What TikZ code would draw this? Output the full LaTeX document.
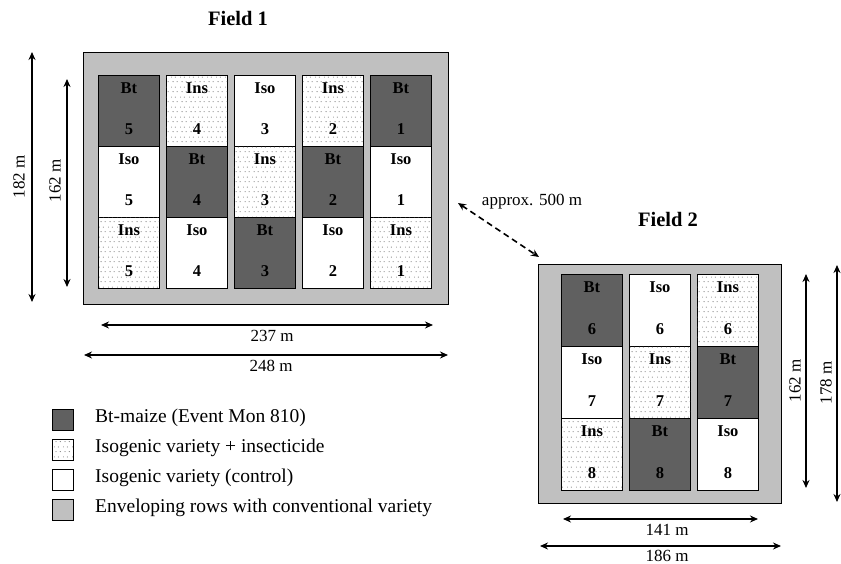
\documentclass[tikz,border=0pt]{standalone}
\usepackage{fontspec}
\setmainfont{Liberation Serif}
\usetikzlibrary{arrows.meta,patterns.meta}
\definecolor{btgray}{HTML}{606060}
\definecolor{envgray}{HTML}{C0C0C0}
\tikzdeclarepattern{name=plotdots,type=uncolored,
  bounding box={(0pt,0pt) and (9pt,10pt)},tile size={(9pt,10pt)},
  code={\fill (2.25pt,2.5pt) circle (0.55pt); \fill (6.75pt,2.5pt) circle (0.55pt);
        \fill (0.25pt,7.5pt) circle (0.55pt); \fill (4.75pt,7.5pt) circle (0.55pt);}}
\tikzset{
 envelope/.style={draw=black, line width=0.9pt, fill=envgray, inner sep=0pt, anchor=north west},
 plotbox/.style={draw=black, line width=0.9pt, minimum width=61pt, inner sep=0pt, anchor=north west},
 btplot/.style={plotbox, fill=btgray},
 isoplot/.style={plotbox, fill=white},
 insplot/.style={plotbox, fill=white, postaction={pattern={plotdots}, pattern color=black!65}},
 celltxt/.style={font=\fontsize{16.5}{18}\selectfont\bfseries, inner sep=0pt},
 titletxt/.style={font=\fontsize{20.5}{24}\selectfont\bfseries, inner sep=0pt},
 dimtxt/.style={font=\fontsize{17}{20}\selectfont, inner sep=0pt},
 dimarrow/.style={line width=1.6pt, {Stealth[length=8pt,width=7pt]}-{Stealth[length=8pt,width=7pt]}},
 legendbox/.style={draw=black, line width=0.9pt, minimum size=21pt, inner sep=0pt},
 legendtxt/.style={font=\fontsize{19.5}{22}\selectfont, anchor=west, inner sep=0pt},
}
\newcommand\plotcell[7]{%
 \node[#4plot, minimum height=#7pt] (#1) at (#2,#3) {};
 \node[celltxt] (#1l) at ([yshift=-13pt]#1.north) {#5};
 \node[celltxt] (#1n) at ([yshift=18pt]#1.south) {#6};
}
\begin{document}
\begin{tikzpicture}[x=1pt,y=-1pt]
\useasboundingbox (0,0) rectangle (841,564);
% Field 1
\node[titletxt] (title1) at (238,18) {Field 1};
\node[envelope, minimum width=365pt, minimum height=252pt] (field1) at (83,52) {};
\plotcell{fa1}{98}{75}{bt}{Bt}{5}{71}
\plotcell{fa2}{98}{146}{iso}{Iso}{5}{71}
\plotcell{fa3}{98}{217}{ins}{Ins}{5}{71}
\plotcell{fb1}{166}{75}{ins}{Ins}{4}{71}
\plotcell{fb2}{166}{146}{bt}{Bt}{4}{71}
\plotcell{fb3}{166}{217}{iso}{Iso}{4}{71}
\plotcell{fc1}{234}{75}{iso}{Iso}{3}{71}
\plotcell{fc2}{234}{146}{ins}{Ins}{3}{71}
\plotcell{fc3}{234}{217}{bt}{Bt}{3}{71}
\plotcell{fd1}{302}{75}{ins}{Ins}{2}{71}
\plotcell{fd2}{302}{146}{bt}{Bt}{2}{71}
\plotcell{fd3}{302}{217}{iso}{Iso}{2}{71}
\plotcell{fe1}{370}{75}{bt}{Bt}{1}{71}
\plotcell{fe2}{370}{146}{iso}{Iso}{1}{71}
\plotcell{fe3}{370}{217}{ins}{Ins}{1}{71}
% Field 1 dimensions
\coordinate (d182a) at (32,52); \coordinate (d182b) at (32,302);
\draw[dimarrow] (d182a) -- (d182b);
\node[dimtxt, rotate=90] (t182) at (19,177) {182 m};
\coordinate (d162a) at (67,79); \coordinate (d162b) at (67,287);
\draw[dimarrow] (d162a) -- (d162b);
\node[dimtxt, rotate=90] (t162) at (55,181) {162 m};
\coordinate (d237a) at (101,325); \coordinate (d237b) at (433,325);
\draw[dimarrow] (d237a) -- (d237b);
\node[dimtxt] (t237) at (272,336) {237 m};
\coordinate (d248a) at (84,355); \coordinate (d248b) at (448,355);
\draw[dimarrow] (d248a) -- (d248b);
\node[dimtxt] (t248) at (271,366) {248 m};
% distance
\coordinate (da) at (458,203); \coordinate (db) at (539,257);
\draw[dimarrow, dash pattern=on 6pt off 4pt] (da) -- (db);
\node[dimtxt] (tapprox) at (532,202) {approx. 500 m};
% Field 2
\node[titletxt] (title2) at (668,219) {Field 2};
\node[envelope, minimum width=243pt, minimum height=239pt] (field2) at (538,264) {};
\plotcell{ga1}{561}{274}{bt}{Bt}{6}{72}
\plotcell{ga2}{561}{346}{iso}{Iso}{7}{72}
\plotcell{ga3}{561}{418}{ins}{Ins}{8}{72}
\plotcell{gb1}{629}{274}{iso}{Iso}{6}{72}
\plotcell{gb2}{629}{346}{ins}{Ins}{7}{72}
\plotcell{gb3}{629}{418}{bt}{Bt}{8}{72}
\plotcell{gc1}{697}{274}{ins}{Ins}{6}{72}
\plotcell{gc2}{697}{346}{bt}{Bt}{7}{72}
\plotcell{gc3}{697}{418}{iso}{Iso}{8}{72}
% Field 2 dimensions
\coordinate (e162a) at (806,274); \coordinate (e162b) at (806,488);
\draw[dimarrow] (e162a) -- (e162b);
\node[dimtxt, rotate=90] (u162) at (795,381) {162 m};
\coordinate (e178a) at (837,265); \coordinate (e178b) at (837,502);
\draw[dimarrow] (e178a) -- (e178b);
\node[dimtxt, rotate=90] (u178) at (826,383) {178 m};
\coordinate (e141a) at (563,519); \coordinate (e141b) at (758,519);
\draw[dimarrow] (e141a) -- (e141b);
\node[dimtxt] (u141) at (667,529.5) {141 m};
\coordinate (e186a) at (540,546); \coordinate (e186b) at (781,546);
\draw[dimarrow] (e186a) -- (e186b);
\node[dimtxt] (u186) at (667,555.5) {186 m};
% Legend
\node[legendbox, fill=btgray] (lg1) at (62.5,419.5) {};
\node[legendtxt] (lt1) at (95,418) {Bt-maize (Event Mon 810)};
\node[legendbox, fill=white, postaction={pattern={plotdots}, pattern color=black!65}] (lg2) at (62.5,449.5) {};
\node[legendtxt] (lt2) at (95,448) {Isogenic variety + insecticide};
\node[legendbox, fill=white] (lg3) at (62.5,480) {};
\node[legendtxt] (lt3) at (95,478) {Isogenic variety (control)};
\node[legendbox, fill=envgray] (lg4) at (62.5,510) {};
\node[legendtxt] (lt4) at (95,508) {Enveloping rows with conventional variety};
\end{tikzpicture}
\end{document}
